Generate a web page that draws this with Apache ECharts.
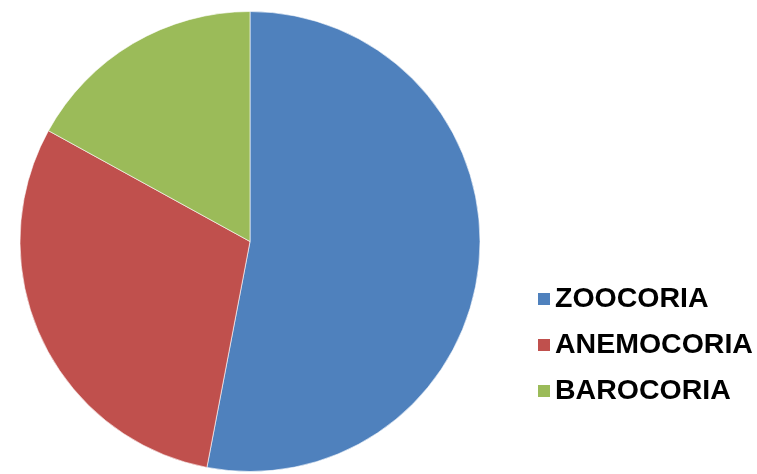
<!DOCTYPE html>
<html>
<head>
<meta charset="utf-8">
<script src="https://cdn.jsdelivr.net/npm/echarts@6/dist/echarts.min.js"></script>
<style>html,body{margin:0;padding:0;background:#fff}#c{width:757px;height:474px}</style>
</head>
<body>
<div id="c"></div>
<script>
const categories = ['ZOOCORIA', 'ANEMOCORIA', 'BAROCORIA'];
const values = [53, 30, 17];
const colors = ['#4F81BD', '#C0504D', '#9BBB59'];

const chart = echarts.init(document.getElementById('c'), null, {renderer: 'canvas'});
chart.setOption({
  animation: false,
  backgroundColor: '#ffffff',
  color: colors,
  legend: {
    orient: 'vertical',
    left: 533,
    top: 279,
    icon: 'rect',
    itemWidth: 12,
    itemHeight: 12,
    itemGap: 16,
    data: categories,
    itemStyle: {borderWidth: 0},
    textStyle: {
      fontFamily: 'Liberation Sans, Arial, sans-serif',
      fontWeight: 'bold',
      fontSize: 28.5,
      lineHeight: 30,
      color: '#000',
      padding: [0, 0, 0, 0]
    }
  },
  series: [{
    type: 'pie',
    center: [250, 241.5],
    radius: 230,
    startAngle: 90,
    clockwise: true,
    label: {show: false},
    labelLine: {show: false},
    itemStyle: {borderColor: '#ffffff', borderWidth: 0.6},
    emphasis: {disabled: true},
    data: categories.map((n, i) => ({name: n, value: values[i]}))
  }]
});
</script>
</body>
</html>
